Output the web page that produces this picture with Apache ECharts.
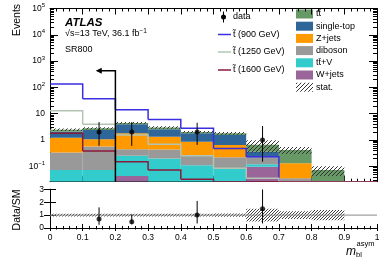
<!DOCTYPE html>
<html><head><meta charset="utf-8">
<script src="https://cdn.jsdelivr.net/npm/echarts@6/dist/echarts.min.js"></script>
<style>html,body{margin:0;padding:0;background:#fff}#c{width:390px;height:265px}</style>
</head><body><div id="c"></div>
<script>
// ---------- data ----------
const binEdges   = [0, 0.1, 0.2, 0.3, 0.4, 0.5, 0.6, 0.7, 0.8, 0.9, 1.0];
const xTickLabels = ['0','0.1','0.2','0.3','0.4','0.5','0.6','0.7','0.8','0.9','1'];
const wjets      = [0, 0, 0.043, 0, 0, 0, 0.097, 0, 0, 0];
const ttV        = [0.072, 0.072, 0.21, 0.2, 0.11, 0.084, 0.023, 0, 0, 0];
const diboson    = [0.26, 0.49, 0.19, 0.24, 0.16, 0.136, 0.1, 0.035, 0, 0];
const zjets      = [0.89, 0.5, 1.36, 0.9, 0.59, 0.43, 0, 0.095, 0, 0];
const singleTop  = [0.85, 1.34, 2.15, 1.21, 0.94, 0.91, 0.14, 0, 0, 0];
const ttbar      = [0.4, 0.4, 0.45, 0.45, 0.2, 0.24, 0.3, 0.29, 0.072, 0];
const statErr    = [0.1, 0.1, 0.1, 0.1, 0.1, 0.12, 0.5, 0.3, 0.4, 0];
const stop900    = [135, 37, 14, 6.0, 2.8, 0.48, 0.23, 0, 0, 0];
const stop1250   = [13, 4.0, 1.55, 0.69, 0.25, 0.084, 0.035, 0, 0, 0];
const stop1600   = [1.8, 0.38, 0.15, 0.072, 0.032, 0, 0, 0, 0, 0];
const dataX      = [0.15, 0.25, 0.45, 0.65];
const dataY      = [2, 2, 2, 1];
const dataLo     = [0.6, 0.6, 0.65, 0.15];
const dataHi     = [4.8, 4.8, 4.5, 3.4];
const ratioY     = [0.69, 0.49, 1.0, 1.5];
const ratioLo    = [0.25, 0.28, 0.35, 0.35];
const ratioHi    = [1.6, 1.05, 2.1, 3.0];
const cutX = 0.2, arrowTipX = 0.14, arrowY = 430;
const yMajor = [0.1, 1, 10, 100, 1000, 10000, 100000];
const yMinor = [];
for (let k = -2; k <= 4; k++) for (let m = 2; m <= 9; m++) { const v = m * Math.pow(10, k); if (v > 0.026 && v < 1e5) yMinor.push(v); }

// ---------- helpers ----------
const FONT = '"Liberation Sans", Arial, Helvetica, sans-serif';
const Y_MIN = 0.026, Y_MAX = 1e5;
const nBins = binEdges.length - 1;
function hatch(color, step) {
  const c = document.createElement('canvas'); c.width = step; c.height = step;
  const g = c.getContext('2d'); g.strokeStyle = color; g.lineWidth = 1;
  g.beginPath();
  g.moveTo(0, step); g.lineTo(step, 0);
  g.moveTo(-1, 1); g.lineTo(1, -1);
  g.moveTo(step - 1, step + 1); g.lineTo(step + 1, step - 1);
  g.stroke(); return c;
}
const hatchMain = { image: hatch('#333', 4), repeat: 'repeat' };
const hatchRatio = { image: hatch('#444', 3), repeat: 'repeat' };

const procs = [
  { name: 'W+jets', vals: wjets, color: '#9a6699' },
  { name: 'tt̄+V', vals: ttV, color: '#33cccc' },
  { name: 'diboson', vals: diboson, color: '#999999' },
  { name: 'Z+jets', vals: zjets, color: '#ff9900' },
  { name: 'single-top', vals: singleTop, color: '#2f6699' },
  { name: 'tt̄', vals: ttbar, color: '#669966' }
];
let cum = new Array(nBins).fill(0);
procs.forEach(p => { p.lo = cum.slice(); cum = cum.map((c, i) => c + p.vals[i]); p.hi = cum.slice(); });
const total = cum;
const signals = [
  { vals: stop900, color: '#3a2ee0', label: 't̃ (900 GeV)' },
  { vals: stop1250, color: '#b3c4b3', label: 't̃ (1250 GeV)' },
  { vals: stop1600, color: '#8a1a3a', label: 't̃ (1600 GeV)' }
];
const clampY = v => Math.min(Math.max(v, Y_MIN), Y_MAX);
const center = i => (binEdges[i] + binEdges[i + 1]) / 2;
const empty = { type: 'group', children: [] };

const series = [];
procs.forEach(p => {
  series.push({
    type: 'custom', xAxisIndex: 0, yAxisIndex: 0, z: 2, clip: true, silent: true,
    data: p.vals.map((v, i) => [center(i), clampY(p.hi[i]), i]), encode: { x: 0, y: 1 },
    renderItem: (params, api) => {
      const i = api.value(2); if (!(p.vals[i] > 0)) return empty;
      const a = api.coord([binEdges[i], clampY(p.lo[i])]);
      const b = api.coord([binEdges[i + 1], clampY(p.hi[i])]);
      return { type: 'rect', shape: { x: a[0], y: b[1], width: b[0] - a[0], height: a[1] - b[1] }, style: { fill: p.color } };
    }
  });
});
// stat band on stack
series.push({
  type: 'custom', xAxisIndex: 0, yAxisIndex: 0, z: 3, clip: true, silent: true,
  data: total.map((v, i) => [center(i), clampY(v), i]), encode: { x: 0, y: 1 },
  renderItem: (params, api) => {
    const i = api.value(2); if (!(total[i] > 0)) return empty;
    const a = api.coord([binEdges[i], clampY(total[i] * (1 - statErr[i]))]);
    const b = api.coord([binEdges[i + 1], clampY(total[i] * (1 + statErr[i]))]);
    return { type: 'rect', shape: { x: a[0], y: b[1], width: b[0] - a[0], height: a[1] - b[1] }, style: { fill: hatchMain } };
  }
});
signals.forEach((s, k) => {
  series.push({
    type: 'custom', xAxisIndex: 0, yAxisIndex: 0, z: 4 + k, clip: true, silent: true,
    data: s.vals.map((v, i) => [center(i), clampY(v), i]), encode: { x: 0, y: 1 },
    renderItem: (params, api) => {
      const i = api.value(2); const v = clampY(s.vals[i]);
      const pts = [api.coord([binEdges[i], v]), api.coord([binEdges[i + 1], v])];
      if (i < nBins - 1) pts.push(api.coord([binEdges[i + 1], clampY(s.vals[i + 1])]));
      return { type: 'polyline', shape: { points: pts }, style: { stroke: s.color, lineWidth: 1.5, fill: null } };
    }
  });
});
// cut arrow
series.push({
  type: 'custom', xAxisIndex: 0, yAxisIndex: 0, z: 8, clip: true, silent: true,
  data: [[cutX, arrowY]], encode: { x: 0, y: 1 },
  renderItem: (params, api) => {
    const b = api.coord([cutX, Y_MIN]), t = api.coord([cutX, arrowY]), tip = api.coord([arrowTipX, arrowY]);
    return { type: 'group', children: [
      { type: 'polyline', shape: { points: [b, t, [tip[0] + 4, tip[1]]] }, style: { stroke: '#000', lineWidth: 1.5, fill: null } },
      { type: 'polygon', shape: { points: [tip, [tip[0] + 6, tip[1] - 3], [tip[0] + 6, tip[1] + 3]] }, style: { fill: '#000' } }
    ] };
  }
});
// data error bars + points (main)
series.push({
  type: 'custom', xAxisIndex: 0, yAxisIndex: 0, z: 10, clip: true, silent: true,
  data: dataX.map((x, i) => [x, dataY[i], i]), encode: { x: 0, y: 1 },
  renderItem: (params, api) => {
    const i = api.value(2);
    const a = api.coord([dataX[i], clampY(dataLo[i])]), b = api.coord([dataX[i], clampY(dataHi[i])]);
    return { type: 'line', shape: { x1: a[0], y1: a[1], x2: b[0], y2: b[1] }, style: { stroke: '#000', lineWidth: 1 } };
  }
});
series.push({
  type: 'scatter', xAxisIndex: 0, yAxisIndex: 0, z: 11, silent: true, symbol: 'circle', symbolSize: 5,
  itemStyle: { color: '#000' }, data: dataX.map((x, i) => [x, dataY[i]])
});
// ratio panel
series.push({
  type: 'custom', xAxisIndex: 2, yAxisIndex: 4, z: 2, clip: true, silent: true,
  data: total.map((v, i) => [center(i), 1, i]), encode: { x: 0, y: 1 },
  renderItem: (params, api) => {
    const i = api.value(2); if (!(total[i] > 0)) return empty;
    const a = api.coord([binEdges[i], 1 - statErr[i]]);
    const b = api.coord([binEdges[i + 1], 1 + statErr[i]]);
    return { type: 'rect', shape: { x: a[0], y: b[1], width: b[0] - a[0], height: a[1] - b[1] }, style: { fill: hatchRatio } };
  }
});
series.push({
  type: 'custom', xAxisIndex: 2, yAxisIndex: 4, z: 3, clip: true, silent: true,
  data: [[0, 1]], encode: { x: 0, y: 1 },
  renderItem: (params, api) => {
    const a = api.coord([binEdges[0], 1]), b = api.coord([binEdges[nBins], 1]);
    return { type: 'line', shape: { x1: a[0], y1: a[1], x2: b[0], y2: b[1] }, style: { stroke: '#888', lineWidth: 1 } };
  }
});
series.push({
  type: 'custom', xAxisIndex: 2, yAxisIndex: 4, z: 10, clip: true, silent: true,
  data: dataX.map((x, i) => [x, ratioY[i], i]), encode: { x: 0, y: 1 },
  renderItem: (params, api) => {
    const i = api.value(2);
    const a = api.coord([dataX[i], ratioLo[i]]), b = api.coord([dataX[i], ratioHi[i]]);
    return { type: 'line', shape: { x1: a[0], y1: a[1], x2: b[0], y2: b[1] }, style: { stroke: '#000', lineWidth: 1 } };
  }
});
series.push({
  type: 'scatter', xAxisIndex: 2, yAxisIndex: 4, z: 11, silent: true, symbol: 'circle', symbolSize: 5,
  itemStyle: { color: '#000' }, data: dataX.map((x, i) => [x, ratioY[i]])
});

function expLabel(v) {
  const e = Math.round(Math.log10(v));
  if (e === 0) return '{b|1}';
  if (e === 1) return '{b|10}';
  return '{b|10}{s|' + (e < 0 ? '−' : '') + Math.abs(e) + '}';
}
const richY = { b: { fontSize: 8.5, fontFamily: FONT, color: '#000' }, s: { fontSize: 6, fontFamily: FONT, color: '#000', padding: [0, 0, 6, 0] } };
const line1 = { show: true, lineStyle: { color: '#000', width: 1 } };
function xAx(grid, pos, major, minor, labels) {
  return {
    gridIndex: grid, type: 'value', min: 0, max: 1, interval: 0.1, position: pos,
    axisLine: line1, splitLine: { show: false },
    axisTick: { show: true, inside: true, length: major, lineStyle: { color: '#000' } },
    minorTick: { show: true, splitNumber: 5, length: minor, lineStyle: { color: '#000' } },
    axisLabel: labels ? { show: true, margin: 5, fontSize: 8.5, fontFamily: FONT, color: '#000',
      formatter: (v, idx) => xTickLabels[Math.round(v * 10)] } : { show: false }
  };
}
function logAx(pos, vals, len, labels, showLine) {
  return {
    gridIndex: 0, type: 'log', logBase: 10, min: Y_MIN, max: Y_MAX, position: pos,
    axisLine: showLine ? line1 : { show: false }, splitLine: { show: false }, minorTick: { show: false },
    axisTick: { show: true, inside: true, length: len, customValues: vals, lineStyle: { color: '#000' } },
    axisLabel: labels ? { show: true, customValues: vals, formatter: expLabel, rich: richY, margin: 5, color: '#000' } : { show: false }
  };
}
function ratioAx(pos, labels) {
  return {
    gridIndex: 1, type: 'value', min: 0, max: 3, interval: 1, position: pos,
    axisLine: line1, splitLine: { show: false },
    axisTick: { show: true, inside: true, length: 6, lineStyle: { color: '#000' } },
    axisLabel: labels ? { show: true, margin: 6, fontSize: 8.5, fontFamily: FONT, color: '#000' } : { show: false }
  };
}

// legend graphics
const g = [];
const T = (text, x, y, size, extra) => Object.assign({ type: 'text', x, y, silent: true,
  style: Object.assign({ text, fontSize: size, fontFamily: FONT, fill: '#000', align: 'left', verticalAlign: 'middle', textAlign: 'left', textVerticalAlign: 'middle' }, extra || {}) });
g.push(T('ATLAS', 65, 22.5, 11.5, { fontWeight: 'bold', fontStyle: 'italic' }));
g.push(T('{a|√s=13 TeV, 36.1 fb}{s|−1}', 65, 34, 9, { rich: { a: { fontSize: 9, fontFamily: FONT, fill: '#000' }, s: { fontSize: 6.5, fontFamily: FONT, fill: '#000', padding: [0, 0, 6, 0] } } }));
g.push(T('SR800', 65, 50, 9));
// left legend column
g.push({ type: 'line', silent: true, shape: { x1: 223.5, y1: 11.5, x2: 223.5, y2: 22.5 }, style: { stroke: '#000', lineWidth: 1 } });
g.push({ type: 'circle', silent: true, shape: { cx: 223.5, cy: 17, r: 2.5 }, style: { fill: '#000' } });
g.push(T('data', 233, 17, 9));
const sigRows = [34.5, 52, 70];
signals.forEach((s, k) => {
  g.push({ type: 'line', silent: true, shape: { x1: 218, y1: sigRows[k], x2: 231, y2: sigRows[k] }, style: { stroke: s.color, lineWidth: 1.5 } });
  g.push(T(s.label, 233, sigRows[k], 9));
});
// right legend column
const legOrder = [5, 4, 3, 2, 1, 0];
legOrder.forEach((pi, r) => {
  const y = 14 + 12.2 * r;
  g.push({ type: 'rect', silent: true, shape: { x: 296, y: y - 4.5, width: 17, height: 9 }, style: { fill: procs[pi].color } });
  g.push(T(procs[pi].name, 316, y, 9));
});
{
  const y = 14 + 12.2 * 6;
  g.push({ type: 'rect', silent: true, shape: { x: 296, y: y - 4.5, width: 17, height: 9 }, style: { fill: hatchMain } });
  g.push(T('stat.', 316, y, 9));
}
// axis titles
g.push(T('Events', 17, 20, 10.5, { align: 'center', textAlign: 'center' }));
g[g.length - 1].rotation = Math.PI / 2;
g.push(T('Data/SM', 17, 210, 10.5, { align: 'center', textAlign: 'center' }));
g[g.length - 1].rotation = Math.PI / 2;
g.push(T('m', 346, 251.5, 12, { fontStyle: 'italic' }));
g.push(T('asym', 356.5, 243.5, 7.5));
g.push(T('bl', 356, 254.5, 7.5));

const chart = echarts.init(document.getElementById('c'), null, { renderer: 'canvas' });
chart.setOption({
  animation: false,
  backgroundColor: '#fff',
  grid: [
    { left: 50, right: 13, top: 8.5, height: 173.2, containLabel: false, outerBoundsMode: 'none' },
    { left: 50, right: 13, top: 189.3, height: 38.7, containLabel: false, outerBoundsMode: 'none' }
  ],
  xAxis: [xAx(0, 'bottom', 6, 3, false), xAx(0, 'top', 6, 3, false), xAx(1, 'bottom', 4, 2, true), xAx(1, 'top', 3, 1.5, false)],
  yAxis: [logAx('left', yMajor, 8, true, true), logAx('left', yMinor, 4, false, false),
          logAx('right', yMajor, 8, false, true), logAx('right', yMinor, 4, false, false),
          ratioAx('left', true), ratioAx('right', false)],
  series,
  graphic: g
});
</script></body></html>
